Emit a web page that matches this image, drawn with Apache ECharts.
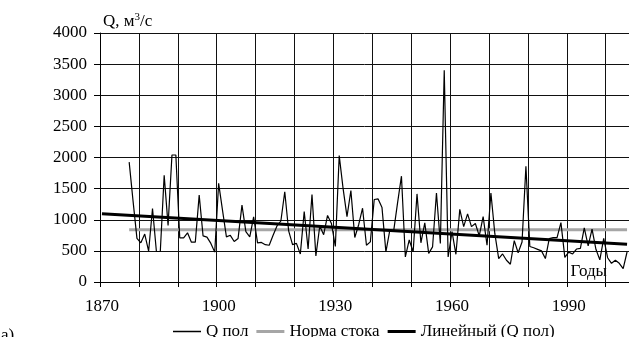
<!DOCTYPE html>
<html><head><meta charset="utf-8">
<script src="https://cdn.jsdelivr.net/npm/echarts@6/dist/echarts.min.js"></script>
<style>html,body{margin:0;padding:0;background:#fff}#c{width:629px;height:337px}</style>
</head><body><div id="c"></div>
<script>
// ---- data ----
const axisStartYear = 1870;
const axisEndYear = 2005;
const qStartYear = 1877;
const qPol = [
  1925, 1300, 700,
  630, 770, 495, 1180, 490, 490, 1715, 910, 2040, 2040,
  710, 710, 790, 640, 640, 1395, 740, 720, 620, 480,
  1585, 1150, 725, 750, 650, 700, 1235, 810, 725, 1045,
  628, 635, 600, 590, 750, 900, 980, 1450, 820, 600,
  620, 450, 1130, 530, 1405, 420, 900, 760, 1070, 940,
  570, 2030, 1500, 1050, 1470, 715, 920, 1185, 590, 645,
  1325, 1335, 1195, 483, 830, 820, 1270, 1700, 402, 675,
  483, 1415, 630, 950, 460, 565, 1430, 620, 3400, 402,
  810, 445, 1168, 890, 1095, 890, 940, 740, 1050, 590,
  1430, 780, 376, 450, 349, 285, 665, 470, 643, 1858,
  570, 550, 525, 500, 376, 697, 713, 713, 954, 395,
  480, 450, 530, 540, 870, 580, 850, 525, 355, 700,
  390, 300, 350, 300, 215, 482
];
const normValue = 840;
const trendStart = 1098;   // value of linear trend at 1870
const trendEnd = 608;      // value of linear trend at 2005
const xLabelYears = [1870, 1900, 1930, 1960, 1990];
const yMin = 0, yMax = 4000, yStep = 500;
const seriesNames = ['Q пол', 'Норма стока', 'Линейный (Q пол)'];

// ---- build ----
const years = [];
for (let y = axisStartYear; y <= axisEndYear; y++) years.push(String(y));
const qData = years.map(y => { const i = +y - qStartYear; return (i >= 0 && i < qPol.length) ? qPol[i] : null; });
const normData = years.map(y => (+y >= qStartYear) ? normValue : null);
const trendData = years.map((y, i) => i === 0 ? trendStart : (i === years.length - 1 ? trendEnd : null));

// legend line icons (tiny corner marks fix the 28x14 bounding box)
function lineIcon(th) {
  const a = 7 - th / 2, b = 7 + th / 2;
  return 'path://M0,0 L0.01,0 L0.01,0.01 Z M0,' + a + ' L28,' + a + ' L28,' + b + ' L0,' + b + ' Z M27.99,14 L28,14 L28,13.99 Z';
}

const FONT = "'Liberation Serif', 'Times New Roman', serif";
const chart = echarts.init(document.getElementById('c'), null, {renderer: 'canvas'});
chart.setOption({
  animation: false,
  backgroundColor: '#fff',
  textStyle: {fontFamily: FONT, color: '#000'},
  grid: {left: 100, right: 0, top: 33, bottom: 55, containLabel: false},
  xAxis: {
    type: 'category', data: years, boundaryGap: true,
    axisLine: {show: true, lineStyle: {color: '#000', width: 1}},
    axisTick: {show: true, length: 5, alignWithLabel: false, interval: 9, lineStyle: {color: '#000'}},
    axisLabel: {interval: (i, v) => xLabelYears.includes(+v), fontSize: 17, color: '#000', fontFamily: FONT, margin: 16},
    splitLine: {show: true, interval: 9, lineStyle: {color: '#111', width: 1}}
  },
  yAxis: {
    type: 'value', min: yMin, max: yMax, interval: yStep,
    axisLine: {show: true, lineStyle: {color: '#000', width: 1}},
    axisTick: {show: true, length: 6, lineStyle: {color: '#000'}},
    axisLabel: {fontSize: 17, color: '#000', fontFamily: FONT, margin: 13, formatter: v => String(v)},
    splitLine: {show: true, lineStyle: {color: '#111', width: 1}}
  },
  legend: {
    top: 318, left: 168,
    data: [
      {name: seriesNames[0], icon: lineIcon(1.3)},
      {name: seriesNames[1], icon: lineIcon(3)},
      {name: seriesNames[2], icon: lineIcon(3)}
    ],
    itemWidth: 28, itemHeight: 14, itemGap: 8,
    textStyle: {fontSize: 17, color: '#000', fontFamily: FONT}
  },
  series: [
    {name: seriesNames[0], type: 'line', data: qData, symbol: 'none', z: 3,
     lineStyle: {color: '#000', width: 1.2}, itemStyle: {color: '#000'}},
    {name: seriesNames[1], type: 'line', data: normData, symbol: 'none', z: 2,
     lineStyle: {color: '#a6a6a6', width: 3}, itemStyle: {color: '#a6a6a6'}},
    {name: seriesNames[2], type: 'line', data: trendData, symbol: 'none', connectNulls: true, z: 4,
     lineStyle: {color: '#000', width: 3}, itemStyle: {color: '#000'}}
  ],
  graphic: [
    {type: 'text', left: 103, top: 12, style: {
      text: '{a|Q, м}{b|3}{a|/с}', fill: '#000',
      rich: {a: {fontSize: 17, fontFamily: FONT, lineHeight: 20, fill: '#000'},
             b: {fontSize: 11, fontFamily: FONT, verticalAlign: 'top', lineHeight: 11, fill: '#000'}}
    }},
    {type: 'text', right: 22, top: 263, style: {text: 'Годы', fontSize: 17, fontFamily: FONT, fill: '#000'}},
    {type: 'text', left: 1, top: 327, style: {text: 'а)', fontSize: 17, fontFamily: FONT, fill: '#000'}}
  ]
});
</script></body></html>
